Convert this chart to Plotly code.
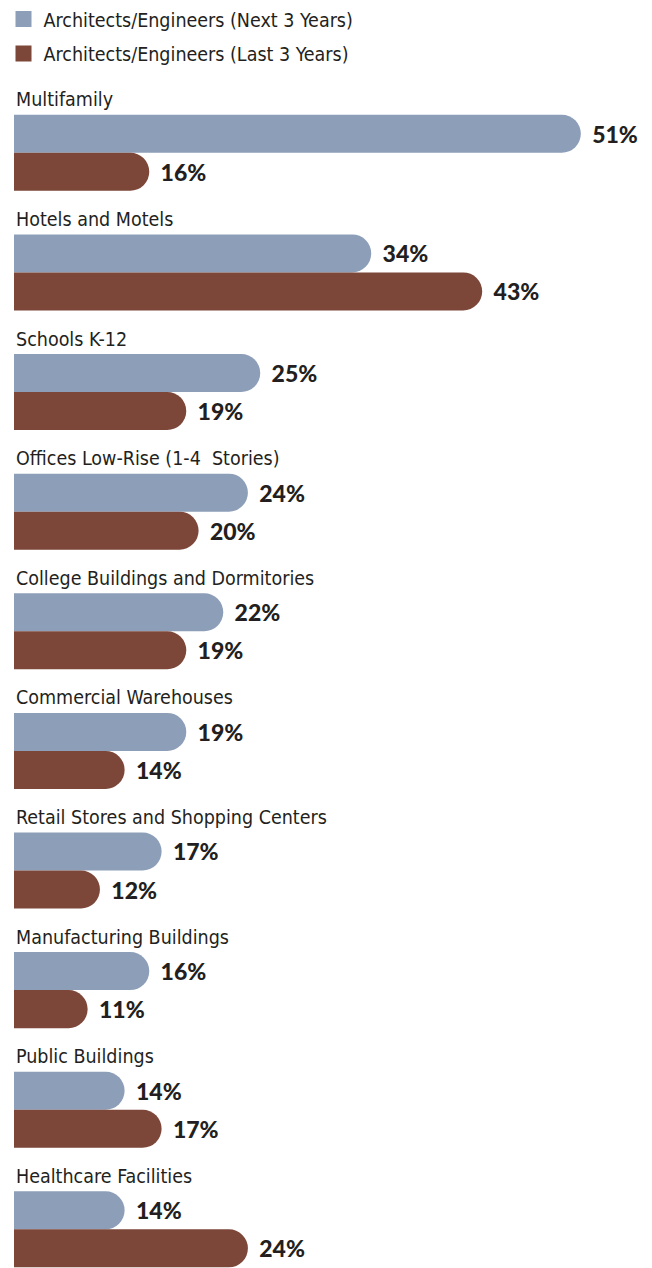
import plotly.graph_objects as go

categories = [
    "Multifamily",
    "Hotels and Motels",
    "Schools K-12",
    "Offices Low-Rise (1-4\u00a0 Stories)",
    "College Buildings and Dormitories",
    "Commercial Warehouses",
    "Retail Stores and Shopping Centers",
    "Manufacturing Buildings",
    "Public Buildings",
    "Healthcare Facilities",
]
next_3_years = [51, 34, 25, 24, 22, 19, 17, 16, 14, 14]
last_3_years = [16, 43, 19, 20, 19, 14, 12, 11, 17, 24]
series_names = [
    "Architects/Engineers (Next 3 Years)",
    "Architects/Engineers (Last 3 Years)",
]

BLUE = "#8d9eb9"
BROWN = "#7c4739"
TEXT = "#231f20"
LABEL_FONT = "Liberation Sans Narrow, DejaVu Sans Condensed, Arial Narrow, sans-serif"
VALUE_FONT = dict(family="Lato, Inter, Arial Black, sans-serif", size=23, color=TEXT, weight=900)

fig = go.Figure()

for name, vals, color in [(series_names[0], next_3_years, BLUE), (series_names[1], last_3_years, BROWN)]:
    fig.add_trace(go.Bar(
        x=vals, y=categories, orientation="h",
        marker=dict(color=color, cornerradius="50%", line=dict(width=0)),
        texttemplate="\u00a0\u2009%{x}%", textposition="outside",
        outsidetextfont=VALUE_FONT, textfont=VALUE_FONT,
        constraintext="none", cliponaxis=False,
        showlegend=False, name=name, hoverinfo="skip",
    ))

# legend entries (square swatches)
for name, color in [(series_names[0], BLUE), (series_names[1], BROWN)]:
    fig.add_trace(go.Scatter(
        x=[None], y=[None], mode="markers", name=name, legendgroup=name,
        marker=dict(symbol="square", size=19, color=color),
    ))

for cat in categories:
    fig.add_annotation(
        x=0, xref="paper", y=cat, yref="y", xanchor="left", yanchor="middle",
        yshift=53, text=cat, showarrow=False,
        font=dict(family=LABEL_FONT, size=19.5, color=TEXT),
    )

fig.update_layout(
    width=652, height=1268,
    margin=dict(l=6, r=0, t=85.1, b=0, pad=0, autoexpand=False),
    paper_bgcolor="white", plot_bgcolor="white",
    barmode="group", bargap=0.3645, bargroupgap=0,
    showlegend=True,
    legend=dict(
        xref="paper", yref="paper", x=-10.5 / 646, y=1 + 93.1 / 1182.9,
        xanchor="left", yanchor="top",
        traceorder="grouped", tracegroupgap=6, itemsizing="trace",
        font=dict(family=LABEL_FONT, size=19.5, color=TEXT),
        bgcolor="rgba(0,0,0,0)",
    ),
    xaxis=dict(range=[5.03, 57.42], visible=False, showgrid=False, zeroline=False),
    yaxis=dict(type="category", categoryorder="array", categoryarray=categories,
               range=[9.39, -0.5], visible=False, showgrid=False, zeroline=False),
)

fig.write_html("out.html")
